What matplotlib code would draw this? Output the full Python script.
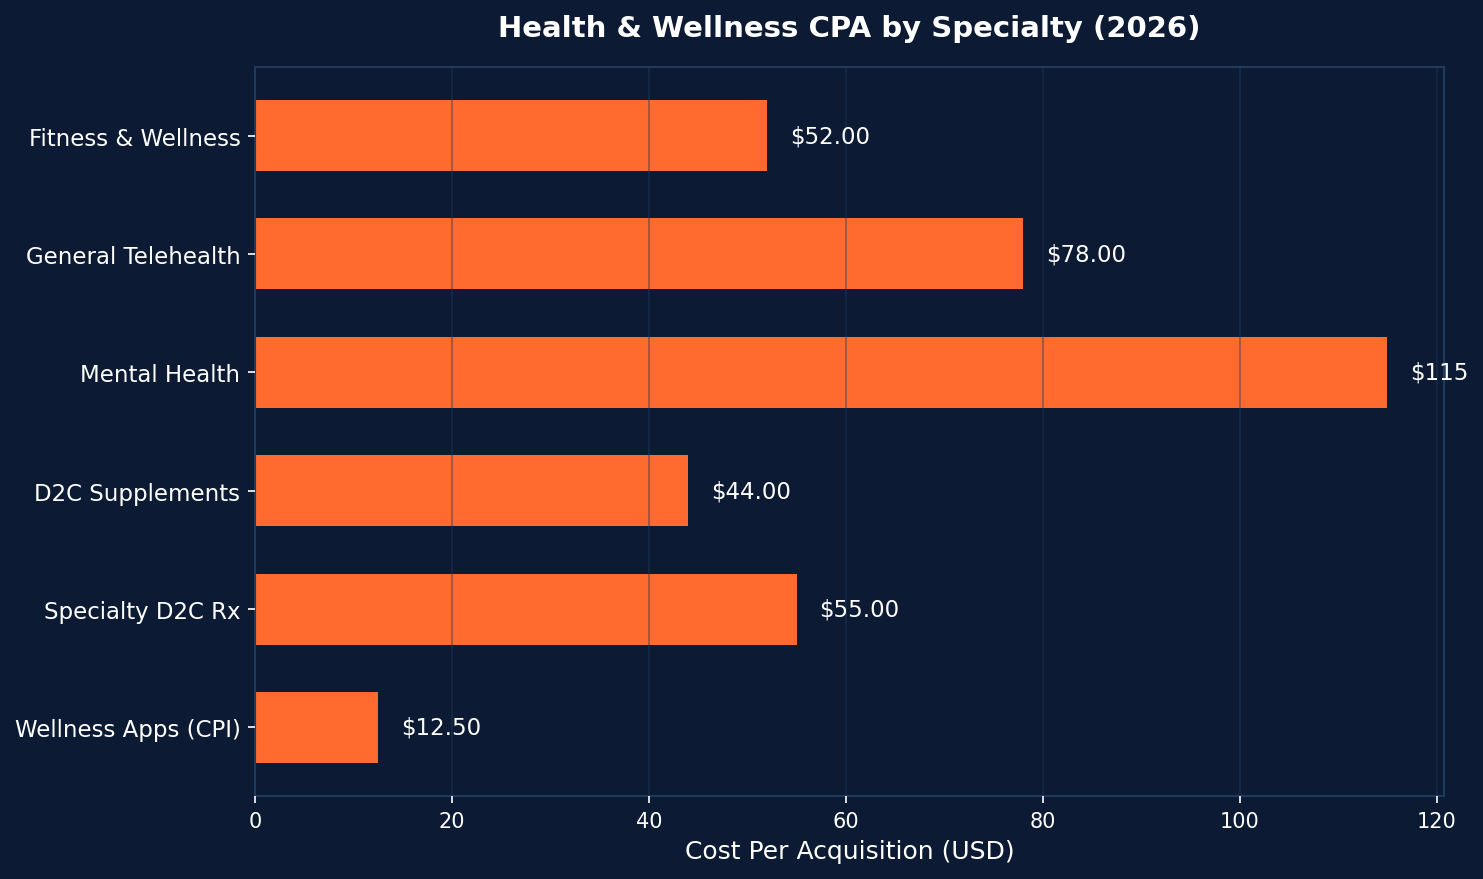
import matplotlib
matplotlib.use("Agg")
import matplotlib.pyplot as plt

categories = ["Fitness & Wellness", "General Telehealth", "Mental Health",
              "D2C Supplements", "Specialty D2C Rx", "Wellness Apps (CPI)"]
values = [52.00, 78.00, 115.0, 44.00, 55.00, 12.50]

BG = "#0c1b33"
SPINE = "#1e3a5f"
BAR = "#ff6b2f"

fig, ax = plt.subplots(figsize=(1483 / 150, 880 / 150), dpi=150)
fig.patch.set_facecolor(BG)
ax.set_facecolor(BG)

y = list(range(len(categories)))
ax.barh(y, values, height=0.6, color=BAR, zorder=2)
ax.set_yticks(y)
ax.set_yticklabels(categories, fontsize=11, color="white")
ax.invert_yaxis()
ax.set_xlim(0, max(values) * 1.05)

ax.grid(axis="x", color=SPINE, alpha=0.4, linewidth=1.0, zorder=3)
ax.set_axisbelow(False)

for yi, v in zip(y, values):
    lbl = f"${v:.0f}" if v >= 100 else f"${v:.2f}"
    ax.text(v + max(values) * 0.02, yi, lbl, va="center", ha="left",
            fontsize=11, color="white", zorder=4)

ax.set_xlabel("Cost Per Acquisition (USD)", fontsize=12, color="white")
ax.set_title("Health & Wellness CPA by Specialty (2026)", fontsize=14,
             fontweight="bold", color="white", pad=15)
ax.tick_params(axis="x", colors="white", labelsize=10)
ax.tick_params(axis="y", colors="white")
for s in ax.spines.values():
    s.set_color(SPINE)
    s.set_linewidth(1.0)

fig.subplots_adjust(left=255 / 1483, right=1444 / 1483,
                    top=1 - 68 / 880, bottom=1 - 797 / 880)
fig.savefig("out.png", facecolor=BG)
